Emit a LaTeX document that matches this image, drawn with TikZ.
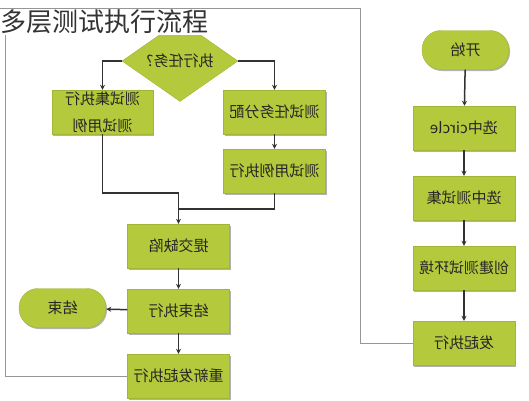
\documentclass[tikz,border=0pt]{standalone}
\usepackage{fontspec}
\setmainfont{Noto Sans CJK SC}
\usetikzlibrary{shapes.geometric,arrows.meta,shadows}
\definecolor{boxgreen}{RGB}{181,201,60}
\definecolor{flowgray}{RGB}{50,50,50}
\definecolor{framegray}{RGB}{150,150,150}
\newcommand{\mirrortext}[1]{\reflectbox{#1}}
\tikzset{
	stepbox/.style={rectangle,fill=boxgreen,draw=boxgreen!90!black,line width=0.4pt,
		minimum width=102pt,minimum height=44pt,inner sep=0pt,align=center,
		font=\fontsize{15}{27}\selectfont,text=black!85,
		drop shadow={shadow xshift=1pt,shadow yshift=-1.5pt,opacity=0.3,fill=black}},
	endbox/.style={stepbox,rounded corners=19pt,minimum width=87pt,minimum height=39pt},
	decision/.style={diamond,fill=boxgreen,draw=boxgreen!90!black,line width=0.4pt,
		minimum width=116pt,minimum height=58pt,inner sep=0pt,
		font=\fontsize{15}{16}\selectfont,text=black!85},
	flow/.style={draw=flowgray,line width=1.5pt,-{Stealth[length=5pt,width=5pt]}},
	plain/.style={draw=flowgray,line width=1.5pt},
	frame/.style={draw=framegray,line width=0.8pt}
}
\begin{document}
\begin{tikzpicture}[x=1pt,y=-1pt]
			\useasboundingbox (0,0) rectangle (529,400);
			% right column
			\node (start) [endbox] at (465.5,50) {\mirrortext{开始}};
			\node (pick) [stepbox] at (464,128) {\mirrortext{选中circle}};
			\node (chooseset) [stepbox] at (464,198) {\mirrortext{选中测试集}};
			\node (env) [stepbox] at (464,268) {\mirrortext{创建测试环境}};
			\node (launch) [stepbox] at (464,343) {\mirrortext{发起执行}};
			% left part
			\node (task) [decision] at (180,61) {\mirrortext{执行任务?}};
			\node (suite) [stepbox,minimum width=101pt] at (102.5,112) {\mirrortext{测试集执行}\\\mirrortext{测试用例}};
			\node (assign) [stepbox] at (274.5,112) {\mirrortext{测试任务分配}};
			\node (runcase) [stepbox] at (274.5,171) {\mirrortext{测试用例执行}};
			\node (defect) [stepbox] at (178.5,246) {\mirrortext{提交缺陷}};
			\node (finish) [stepbox] at (178.5,311) {\mirrortext{结束执行}};
			\node (stop) [endbox] at (62.5,308) {\mirrortext{结束}};
			\node (rerun) [stepbox] at (178.5,376) {\mirrortext{重新发起执行}};
			\coordinate (joinL) at (178.5,193);
			\coordinate (joinR) at (178.5,209);
			% frame line
			\draw [frame] (launch.west) -| (360,8) -- (5,8) |- (rerun.west);
			\node (title) [fill=white,inner sep=1pt,anchor=west,font=\fontsize{26}{26}\selectfont,text=black!80] at (-1,22) {多层测试执行流程};
			\draw [frame] (0,8) -- (360,8);
			% connectors
			\draw [flow] (start) -- (pick);
			\draw [flow] (pick) -- (chooseset);
			\draw [flow] (chooseset) -- (env);
			\draw [flow] (env) -- (launch);
			\draw [flow] (task.west) -| (suite.north);
			\draw [flow] (task.east) -| (assign.north);
			\draw [flow] (assign) -- (runcase);
			\draw [flow] (suite.south) |- (joinL) -- (defect.north);
			\draw [plain] (runcase.south) |- (joinR);
			\draw [flow] (defect) -- (finish);
			\draw [flow] (finish) -- (stop);
			\draw [flow] (finish) -- (rerun);
		\end{tikzpicture}
\end{document}
